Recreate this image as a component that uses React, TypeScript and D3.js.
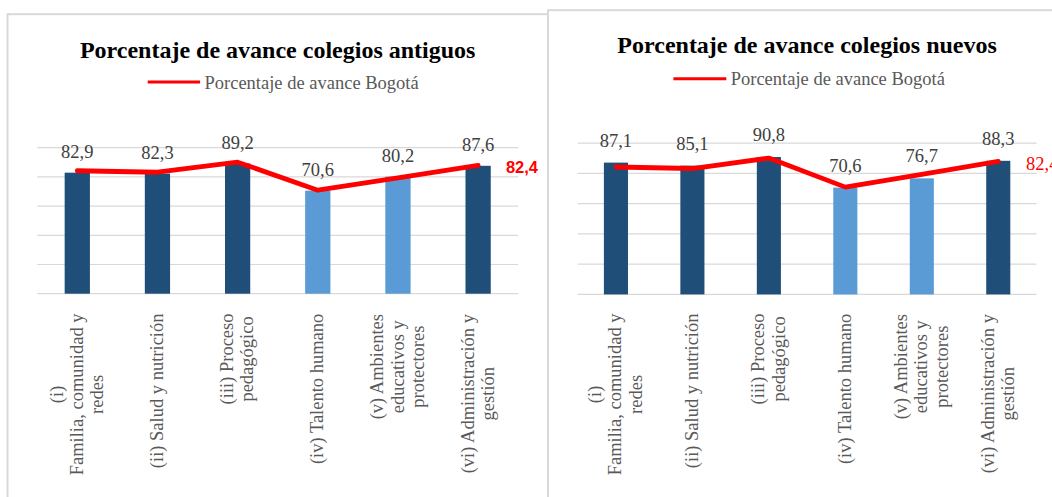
import React from "react";
import * as d3 from "d3";

const categories: string[][] = [
  ["(i)", "Familia, comunidad y", "redes"],
  ["(ii) Salud y nutrición"],
  ["(iii) Proceso", "pedagógico"],
  ["(iv) Talento humano"],
  ["(v) Ambientes", "educativos y", "protectores"],
  ["(vi) Administración y", "gestión"],
];
const antiguos = [82.9, 82.3, 89.2, 70.6, 80.2, 87.6];
const nuevos = [87.1, 85.1, 90.8, 70.6, 76.7, 88.3];
const bogota = [84.2, 83.2, 90.1, 70.9, 79.4, 87.9];
const barTone = ["dark", "dark", "dark", "light", "light", "dark"];
const yTicks = [0, 20, 40, 60, 80, 100];
const bogotaLabel = "82,4";
const legendLabel = "Porcentaje de avance Bogotá";
const titles = ["Porcentaje de avance colegios antiguos", "Porcentaje de avance colegios nuevos"];

const SERIF = '"Liberation Serif", "Times New Roman", serif';
const SANS = '"Liberation Sans", Arial, sans-serif';
const COLORS: Record<string, string> = { dark: "#1f4e79", light: "#5b9bd5" };

const fmt = (v: number) => d3.format(".1f")(v).replace(".", ",");

let ctx: CanvasRenderingContext2D | null = null;
function measure(text: string, size: number) {
  if (!ctx) ctx = document.createElement("canvas").getContext("2d");
  if (!ctx) return text.length * size * 0.45;
  ctx.font = `${size}px "Liberation Serif"`;
  return ctx.measureText(text).width;
}

type Layout = {
  panelX: number; panelY: number;
  x0: number; x1: number; yBase: number; yTop: number;
  titleX: number; titleY: number;
  legX0: number; legX1: number; legY: number; legTextX: number; legTextY: number;
  labelOffset: number; endBold: boolean;
};

function Panel({ values, title, L }: { values: number[]; title: string; L: Layout }) {
  const idx = values.map((_, i) => i);
  const x = d3.scaleBand<number>().domain(idx).range([L.x0, L.x1]).paddingInner(0.685).paddingOuter(0.3425);
  const y = d3.scaleLinear().domain([0, 100]).range([L.yBase, L.yTop]);
  const cx = (i: number) => (x(i) as number) + x.bandwidth() / 2;
  const line = d3.line<number>().x((_, i) => cx(i)).y((d) => y(d));
  const axisFont = 18.5;
  const lineH = 20.2;
  const labelTop = 313.5;
  const last = bogota.length - 1;
  return (
    <g>
      <rect x={L.panelX} y={L.panelY} width={1200} height={600} fill="#fff" stroke="#d9d9d9" strokeWidth={2} />
      <text x={L.titleX} y={L.titleY} textAnchor="middle" fontFamily={SERIF} fontWeight="bold" fontSize={24} fill="#000">{title}</text>
      <line x1={L.legX0} x2={L.legX1} y1={L.legY} y2={L.legY} stroke="#ff0000" strokeWidth={3} />
      <text x={L.legTextX} y={L.legTextY} fontFamily={SERIF} fontSize={18.5} fill="#595959">{legendLabel}</text>
      {yTicks.map((t) => (
        <line key={t} x1={L.x0} x2={L.x1} y1={y(t)} y2={y(t)} stroke="#d9d9d9" strokeWidth={1.2} />
      ))}
      {values.map((v, i) => (
        <rect key={i} x={x(i)} y={y(v)} width={x.bandwidth()} height={y(0) - y(v)} fill={COLORS[barTone[i]]} />
      ))}
      <path d={line(bogota) || ""} fill="none" stroke="#ff0000" strokeWidth={4.8} strokeLinejoin="round" strokeLinecap="round" />
      {values.map((v, i) => (
        <text key={i} x={cx(i)} y={y(v) - L.labelOffset + 6.1} textAnchor="middle" fontFamily={SERIF} fontSize={18.5} fill="#404040">{fmt(v)}</text>
      ))}
      <text
        x={cx(last) + 27.8}
        y={y(bogota[last]) + 2 + (L.endBold ? 0.36 * 16.5 : 0.33 * 18.5)}
        fontFamily={L.endBold ? SANS : SERIF}
        fontWeight={L.endBold ? "bold" : "normal"}
        fontSize={L.endBold ? 16.5 : 18.5}
        fill="#ff0000"
      >{bogotaLabel}</text>
      {categories.map((lines, i) => {
        const maxW = Math.max(...lines.map((s) => measure(s, axisFont)));
        return (
          <g key={i} transform={`translate(${cx(i)},${labelTop}) rotate(-90)`}>
            {lines.map((s, j) => (
              <text key={j} x={-maxW / 2} y={(j - (lines.length - 1) / 2) * lineH + 0.3 * axisFont} textAnchor="middle" fontFamily={SERIF} fontSize={axisFont} fill="#595959">{s}</text>
            ))}
          </g>
        );
      })}
    </g>
  );
}

const leftLayout: Layout = {
  panelX: 7.5, panelY: 14.2, x0: 37.2, x1: 518.2, yBase: 293.7, yTop: 147.7,
  titleX: 277.7, titleY: 57.5, legX0: 147.7, legX1: 200.1, legY: 82.1, legTextX: 204.5, legTextY: 88.6,
  labelOffset: 20.5, endBold: true,
};
const rightLayout: Layout = {
  panelX: 548, panelY: 10.2, x0: 577.7, x1: 1036.5, yBase: 294.4, yTop: 143.1,
  titleX: 807.1, titleY: 52.6, legX0: 673.4, legX1: 726.3, legY: 78.7, legTextX: 730.7, legTextY: 85.2,
  labelOffset: 22, endBold: false,
};

export default function App() {
  return (
    <svg width={1052} height={497} style={{ position: "absolute", left: 0, top: 0, background: "#fff" }}>
      <rect x={0} y={0} width={1052} height={497} fill="#fff" />
      <Panel values={antiguos} title={titles[0]} L={leftLayout} />
      <Panel values={nuevos} title={titles[1]} L={rightLayout} />
    </svg>
  );
}
